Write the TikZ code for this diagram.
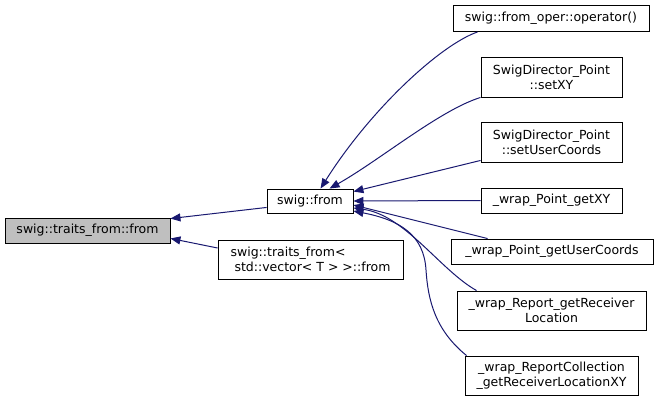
\documentclass[tikz,border=0pt]{standalone}
\usepackage{fontspec}
\setmainfont{DejaVu Sans}
\usetikzlibrary{arrows.meta}
\definecolor{edgeblue}{HTML}{191970}
\definecolor{hlgray}{HTML}{BFBFBF}
\tikzset{
  box/.style={draw=black, line width=0.9pt, fill=white, inner sep=0pt, align=center,
    font=\fontsize{12.5}{15}\selectfont},
  edge/.style={draw=edgeblue, line width=1pt, -{Triangle[length=10pt,width=8pt]}}
}
\begin{document}
\begin{tikzpicture}[x=1pt,y=-1pt]
\useasboundingbox (0,0) rectangle (657,402);
% nodes
\node[box, fill=hlgray, minimum width=165pt, minimum height=25pt] (tff) at (87.5,230.5) {swig::traits\_from::from};
\node[box, minimum width=86pt, minimum height=24pt] (sf) at (310,201) {swig::from};
\node[box, minimum width=185pt, minimum height=39pt, align=left] (tfv) at (310.5,259.5) {swig::traits\_from<\\\ std::vector< T > >::from};
\node[box, minimum width=196pt, minimum height=26pt] (fo) at (551,18.5) {swig::from\_oper::operator()};
\node[box, minimum width=141pt, minimum height=40pt] (sxy) at (551.5,77) {SwigDirector\_Point\\::setXY};
\node[box, minimum width=141pt, minimum height=40pt] (suc) at (551.5,142) {SwigDirector\_Point\\::setUserCoords};
\node[box, minimum width=141pt, minimum height=25pt] (gxy) at (551.5,200.5) {\_wrap\_Point\_getXY};
\node[box, minimum width=202pt, minimum height=25pt] (guc) at (552,251.5) {\_wrap\_Point\_getUserCoords};
\node[box, minimum width=189pt, minimum height=39pt] (rep) at (551.5,310.5) {\_wrap\_Report\_getReceiver\\Location};
\node[box, minimum width=173pt, minimum height=39pt] (col) at (551.5,375.5) {\_wrap\_ReportCollection\\\_getReceiverLocationXY};
% edges
\draw[edge] ([yshift=6pt]sf.south west) -- ([yshift=-1pt]tff.north east);
\draw[edge] ([yshift=11.5pt]tfv.west) -- ([yshift=5pt]tff.south east);
\draw[edge] ([xshift=25pt]fo.south west) .. controls (440,45) and (370,110) .. ([xshift=54pt]sf.north west);
\draw[edge] (sxy.south west) .. controls (440,110) and (380,160) .. ([xshift=63pt]sf.north west);
\draw[edge] ([yshift=2pt]suc.south west) -- ([yshift=-3pt]sf.north east);
\draw[edge] (gxy.west) -- (sf.east);
\draw[edge] ([xshift=37pt]guc.north west) -- ([yshift=-4pt]sf.east);
\draw[edge] ([xshift=20pt]rep.north west) .. controls (440,270) and (405,215) .. ([yshift=-7pt]sf.east);
\draw[edge] ([xshift=2pt]col.north west) .. controls (435,330) and (428,300) .. (426,270) .. controls (424,235) and (400,220) .. ([yshift=-10pt]sf.east);
\end{tikzpicture}
\end{document}
